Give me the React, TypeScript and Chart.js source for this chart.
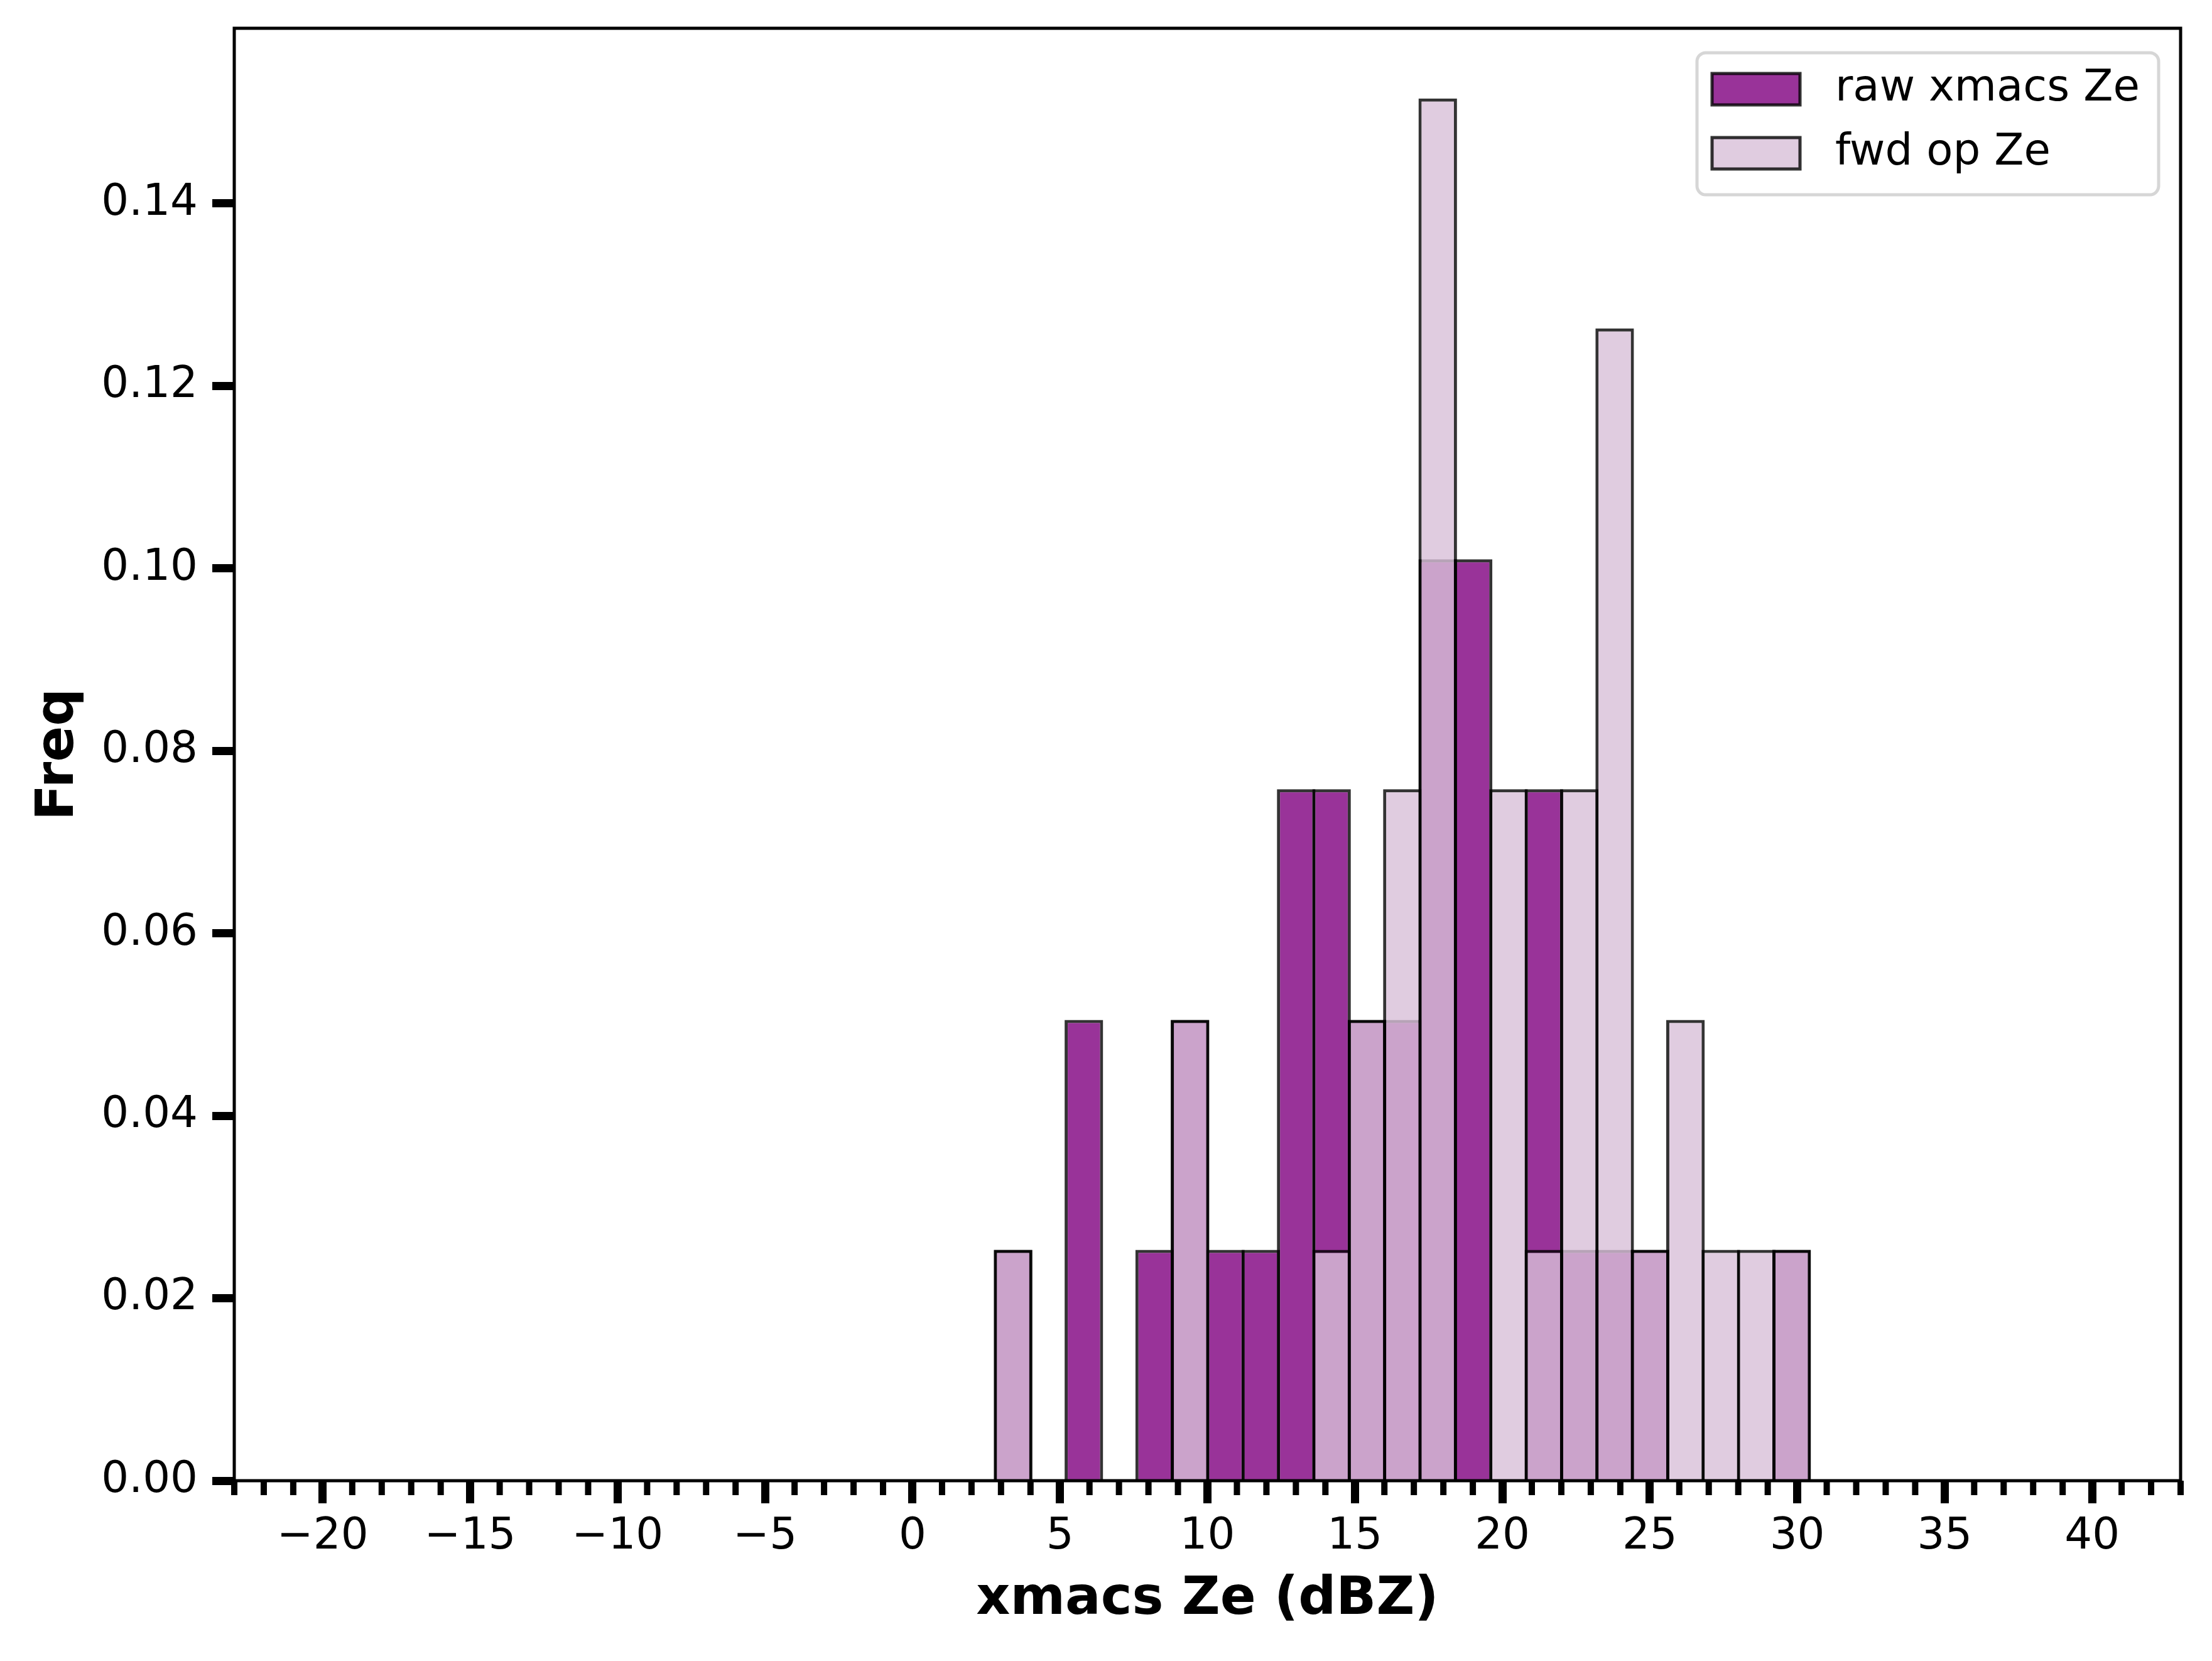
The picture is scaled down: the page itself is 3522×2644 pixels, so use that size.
import React, { useEffect, useRef } from 'react';
import { Chart, registerables } from 'chart.js';

Chart.register(...registerables);

// histogram bin edges (dBZ) shared by both series
const binEdges = [
  2.81, 4.01, 5.21, 6.41, 7.61, 8.81, 10.01, 11.21, 12.41, 13.61, 14.81, 16.01,
  17.21, 18.41, 19.61, 20.81, 22.01, 23.21, 24.41, 25.61, 26.81, 28.01, 29.21, 30.41,
];
const rawFreq = [
  0.0253, 0, 0.0505, 0, 0.0253, 0.0505, 0.0253, 0.0253, 0.0758, 0.0758, 0.0505, 0.0505,
  0.101, 0.101, 0, 0.0758, 0.0253, 0.0253, 0.0253, 0, 0, 0, 0.0253,
];
const fwdFreq = [
  0.0253, 0, 0, 0, 0, 0.0505, 0, 0, 0, 0.0253, 0.0505, 0.0758,
  0.1515, 0, 0.0758, 0.0253, 0.0758, 0.1263, 0.0253, 0.0505, 0.0253, 0.0253, 0.0253,
];
const seriesLabels = ['raw xmacs Ze', 'fwd op Ze'];
const xMajorTicks = [-20, -15, -10, -5, 0, 5, 10, 15, 20, 25, 30, 35, 40];
const yTicks = [0, 0.02, 0.04, 0.06, 0.08, 0.1, 0.12, 0.14];

const FONT = '"DejaVu Sans", sans-serif';
const EDGE = 'rgba(0,0,0,0.8)';

// spines + minor ticks on the x axis
const framePlugin = {
  id: 'frame',
  afterDatasetsDraw(chart: any) {
    const { ctx, chartArea: a, scales } = chart;
    const xs = scales.x;
    ctx.save();
    ctx.strokeStyle = '#000';
    ctx.lineWidth = 10;
    for (let v = Math.ceil(xs.min); v <= xs.max; v++) {
      if (xMajorTicks.includes(v)) continue;
      const px = xs.getPixelForValue(v);
      ctx.beginPath();
      ctx.moveTo(px, a.bottom);
      ctx.lineTo(px, a.bottom + 23);
      ctx.stroke();
    }
    ctx.lineWidth = 5;
    ctx.strokeRect(a.left, a.top, a.right - a.left, a.bottom - a.top);
    ctx.restore();
  },
};

// matplotlib-like legend in the upper right corner
const legendPlugin = {
  id: 'mplLegend',
  afterDraw(chart: any) {
    const { ctx, chartArea: a } = chart;
    const w = 735;
    const h = 226;
    const x0 = a.right - 35 - w;
    const y0 = a.top + 39;
    ctx.save();
    ctx.beginPath();
    ctx.roundRect(x0, y0, w, h, 14);
    ctx.fillStyle = 'rgba(255,255,255,0.8)';
    ctx.fill();
    ctx.lineWidth = 5;
    ctx.strokeStyle = 'rgba(204,204,204,0.8)';
    ctx.stroke();
    ctx.font = `69px ${FONT}`;
    ctx.textBaseline = 'middle';
    ctx.textAlign = 'left';
    chart.data.datasets.forEach((ds: any, i: number) => {
      const cy = y0 + 58 + i * 102;
      ctx.fillStyle = ds.backgroundColor;
      ctx.fillRect(x0 + 24, cy - 25, 140, 50);
      ctx.lineWidth = 5;
      ctx.strokeStyle = EDGE;
      ctx.strokeRect(x0 + 24, cy - 25, 140, 50);
      ctx.fillStyle = '#000';
      ctx.fillText(ds.label, x0 + 220, cy);
    });
    ctx.restore();
  },
};

const App: React.FC = () => {
  const canvasRef = useRef<HTMLCanvasElement>(null);

  useEffect(() => {
    document.body.style.margin = '0';
    if (!canvasRef.current) return;
    const centers = binEdges.slice(0, -1).map((e, i) => (e + binEdges[i + 1]) / 2);
    const barOpts = {
      borderColor: EDGE,
      borderWidth: 5,
      borderSkipped: 'start',
      grouped: false,
      categoryPercentage: 1,
      barPercentage: 1.0887,
    };

    const chart = new Chart(canvasRef.current, {
      type: 'bar',
      data: {
        datasets: [
          {
            label: seriesLabels[0],
            data: centers.map((x, i) => ({ x, y: rawFreq[i] })),
            backgroundColor: 'rgba(128,0,128,0.8)',
            order: 1,
            ...barOpts,
          },
          {
            label: seriesLabels[1],
            data: centers.map((x, i) => ({ x, y: fwdFreq[i] })),
            backgroundColor: 'rgba(216,191,216,0.8)',
            order: 0,
            ...barOpts,
          },
        ],
      } as any,
      options: {
        animation: false,
        responsive: false,
        devicePixelRatio: 1,
        layout: { padding: { left: 0, top: 45, right: 50, bottom: 0 } },
        plugins: {
          legend: { display: false },
          tooltip: { enabled: false },
        },
        scales: {
          x: {
            type: 'linear',
            min: -23,
            max: 43,
            offset: false,
            afterFit: (s: any) => {
              s.height = 287;
              s.paddingLeft = 0;
              s.paddingRight = 0;
            },
            afterBuildTicks: (s: any) => {
              s.ticks = xMajorTicks.map((v) => ({ value: v }));
            },
            grid: {
              offset: false,
              drawOnChartArea: false,
              drawTicks: true,
              tickLength: 36,
              tickWidth: 13,
              tickColor: '#000',
            },
            border: { display: false },
            ticks: {
              autoSkip: false,
              maxRotation: 0,
              padding: 13,
              color: '#000',
              font: { family: FONT, size: 69 },
              callback: (v: any) => (v < 0 ? '\u2212' + Math.abs(v) : String(v)),
            },
            title: {
              display: true,
              text: 'xmacs Ze (dBZ)',
              color: '#000',
              font: { family: FONT, size: 84, weight: 'bold' },
              padding: { top: 0, bottom: 46 },
            },
          },
          y: {
            type: 'linear',
            min: 0,
            max: 0.1592,
            afterFit: (s: any) => {
              s.width = 373;
              s.paddingTop = 0;
              s.paddingBottom = 0;
            },
            afterBuildTicks: (s: any) => {
              s.ticks = yTicks.map((v) => ({ value: v }));
            },
            grid: {
              drawOnChartArea: false,
              drawTicks: true,
              tickLength: 35,
              tickWidth: 13,
              tickColor: '#000',
            },
            border: { display: false },
            ticks: {
              padding: 23,
              color: '#000',
              font: { family: FONT, size: 69 },
              callback: (v: any) => Number(v).toFixed(2),
            },
            title: {
              display: true,
              text: 'Freq',
              color: '#000',
              font: { family: FONT, size: 84, weight: 'bold' },
              padding: { top: 44, bottom: 0 },
            },
          },
        },
      } as any,
      plugins: [framePlugin, legendPlugin],
    });

    return () => {
      chart.destroy();
    };
  }, []);

  return (
    <canvas
      ref={canvasRef}
      width={3522}
      height={2644}
      style={{ display: 'block', width: 3522, height: 2644 }}
    />
  );
};

export default App;
